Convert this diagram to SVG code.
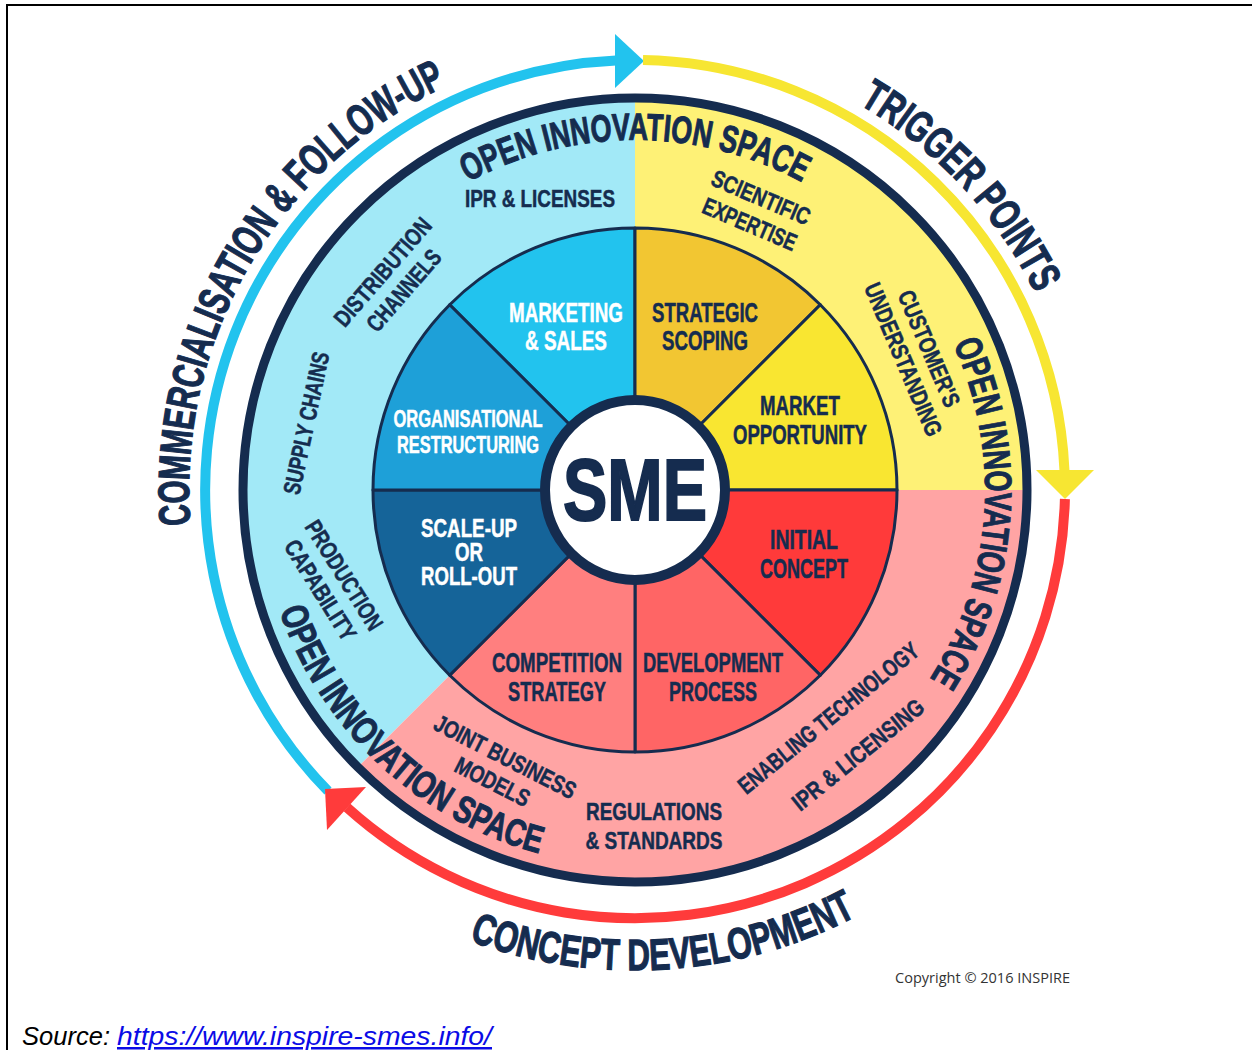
<svg xmlns="http://www.w3.org/2000/svg" xmlns:xlink="http://www.w3.org/1999/xlink" width="1252" height="1050" viewBox="0 0 1252 1050">
<style>
.t{font-family:"Liberation Sans",Arial,sans-serif;font-weight:bold;text-anchor:middle}
.nv{fill:#152C4F;stroke:#152C4F;stroke-width:0.5}
.wh{fill:#ffffff;stroke:#ffffff;stroke-width:0.5}
.s27{font-size:27px}
.s25{font-size:25px}
.s23{font-size:23px}
.s24{font-size:24px}
.ois{font-size:38px;fill:#152C4F;stroke:#152C4F;stroke-width:1}
.big{font-size:44px;fill:#152C4F;stroke:#152C4F;stroke-width:1.2}
.sec{stroke:#152C4F;stroke-width:3;stroke-linejoin:round}
.arc{fill:none;stroke-width:10}
</style>
<defs>
<path id="pTop" d="M290.3,429.2 A350,350 0 0 1 979.7,429.2"/>
<path id="pRight" d="M719.7,150.4 A350,350 0 0 1 671.6,838.1"/>
<path id="pBL" d="M318.0,284.1 A379,379 0 0 0 862.5,792.7"/>
<path id="pComm" d="M346.8,830.4 A446,446 0 0 1 789.4,71.6"/>
<path id="pTrig" d="M392.1,115.9 A446,446 0 0 1 991.2,758.4"/>
<path id="pConc" d="M168.5,603.3 A480,480 0 0 0 1112.1,543.1"/>
</defs>

<g id="frame" stroke="#000" stroke-width="2">
<line x1="7" y1="5" x2="1252" y2="5"/>
<line x1="7" y1="4" x2="7" y2="1050"/>
</g>

<g id="outer-bands">
<path d="M635,490 L357.8,767.2 A392,392 0 0 1 635,98 Z" fill="#A2E9F7"/>
<path d="M635,490 L635,98 A392,392 0 0 1 1027,490 Z" fill="#FEF176"/>
<path d="M635,490 L1027,490 A392,392 0 0 1 357.8,767.2 Z" fill="#FFA4A4"/>
<circle cx="635" cy="490" r="392" fill="none" stroke="#152C4F" stroke-width="9"/>
</g>

<g id="connectors">
<path class="arc" stroke="#22C3EE" d="M328,791 A430,430 0 0 1 616,60.5"/>
<polygon fill="#22C3EE" points="615,34 644,61 615,88"/>
<path class="arc" stroke="#F7E632" d="M643,60 A430,430 0 0 1 1064.5,471"/>
<polygon fill="#F7E632" points="1036,470 1094,470 1065,499"/>
<path class="arc" stroke="#FF3B3B" d="M1064.9,499 A430,430 0 0 1 347,807.5"/>
<polygon fill="#FF3B3B" points="325,789 366,787 327,830"/>
</g>

<g id="sectors">
<g id="sector-marketing">
<path class="sec" fill="#22C3EE" d="M635,490 L449.7,304.7 A262,262 0 0 1 635,228 Z"/>
<text class="t wh s27" x="566" y="322" textLength="114" lengthAdjust="spacingAndGlyphs">MARKETING</text>
<text class="t wh s27" x="566" y="350" textLength="82" lengthAdjust="spacingAndGlyphs">&amp; SALES</text>
</g>
<g id="sector-strategic">
<path class="sec" fill="#F2C632" d="M635,490 L635,228 A262,262 0 0 1 820.3,304.7 Z"/>
<text class="t nv s27" x="705" y="322" textLength="106" lengthAdjust="spacingAndGlyphs">STRATEGIC</text>
<text class="t nv s27" x="705" y="350" textLength="86" lengthAdjust="spacingAndGlyphs">SCOPING</text>
</g>
<g id="sector-market">
<path class="sec" fill="#F9E631" d="M635,490 L820.3,304.7 A262,262 0 0 1 897,490 Z"/>
<text class="t nv s27" x="800" y="415" textLength="80" lengthAdjust="spacingAndGlyphs">MARKET</text>
<text class="t nv s27" x="800" y="444" textLength="134" lengthAdjust="spacingAndGlyphs">OPPORTUNITY</text>
</g>
<g id="sector-initial">
<path class="sec" fill="#FF3A3A" d="M635,490 L897,490 A262,262 0 0 1 820.3,675.3 Z"/>
<text class="t nv s27" x="804" y="549" textLength="68" lengthAdjust="spacingAndGlyphs">INITIAL</text>
<text class="t nv s27" x="804" y="578" textLength="88" lengthAdjust="spacingAndGlyphs">CONCEPT</text>
</g>
<g id="sector-development">
<path class="sec" fill="#FF6565" d="M635,490 L820.3,675.3 A262,262 0 0 1 635,752 Z"/>
<text class="t nv s27" x="713" y="672" textLength="140" lengthAdjust="spacingAndGlyphs">DEVELOPMENT</text>
<text class="t nv s27" x="713" y="701" textLength="88" lengthAdjust="spacingAndGlyphs">PROCESS</text>
</g>
<g id="sector-competition">
<path class="sec" fill="#FF7F7F" d="M635,490 L635,752 A262,262 0 0 1 449.7,675.3 Z"/>
<text class="t nv s27" x="557" y="672" textLength="130" lengthAdjust="spacingAndGlyphs">COMPETITION</text>
<text class="t nv s27" x="557" y="701" textLength="98" lengthAdjust="spacingAndGlyphs">STRATEGY</text>
</g>
<g id="sector-scaleup">
<path class="sec" fill="#156499" d="M635,490 L449.7,675.3 A262,262 0 0 1 373,490 Z"/>
<text class="t wh s25" x="469" y="537" textLength="96" lengthAdjust="spacingAndGlyphs">SCALE-UP</text>
<text class="t wh s25" x="469" y="561" textLength="28" lengthAdjust="spacingAndGlyphs">OR</text>
<text class="t wh s25" x="469" y="585" textLength="96" lengthAdjust="spacingAndGlyphs">ROLL-OUT</text>
</g>
<g id="sector-organisational">
<path class="sec" fill="#1EA0D8" d="M635,490 L373,490 A262,262 0 0 1 449.7,304.7 Z"/>
<text class="t wh s23" x="468" y="427" textLength="149" lengthAdjust="spacingAndGlyphs">ORGANISATIONAL</text>
<text class="t wh s23" x="468" y="453" textLength="142" lengthAdjust="spacingAndGlyphs">RESTRUCTURING</text>
</g>
</g>

<g id="center-sme">
<circle cx="635" cy="490" r="90" fill="#ffffff" stroke="#152C4F" stroke-width="10"/>
<text class="t" style="font-size:88px;fill:#152C4F;stroke:#152C4F;stroke-width:2" x="635" y="520" textLength="144" lengthAdjust="spacingAndGlyphs">SME</text>
</g>

<g id="band-labels">
<g id="lbl-ipr-licenses"><text class="t nv s24" x="540" y="207" textLength="150" lengthAdjust="spacingAndGlyphs">IPR &amp; LICENSES</text></g>
<g id="lbl-scientific" transform="translate(755.5,210.5) rotate(23)">
<text class="t nv s24" x="0" y="-5.9" textLength="105" lengthAdjust="spacingAndGlyphs">SCIENTIFIC</text>
<text class="t nv s24" x="0" y="23.1" textLength="100" lengthAdjust="spacingAndGlyphs">EXPERTISE</text>
</g>
<g id="lbl-customer" transform="translate(916.5,354) rotate(67)">
<text class="t nv s24" x="0" y="-5.4" textLength="124" lengthAdjust="spacingAndGlyphs">CUSTOMER'S</text>
<text class="t nv s24" x="0" y="22.6" textLength="164" lengthAdjust="spacingAndGlyphs">UNDERSTANDING</text>
</g>
<g id="lbl-distribution" transform="translate(393,281) rotate(-49)">
<text class="t nv s24" x="0" y="-5.4" textLength="135" lengthAdjust="spacingAndGlyphs">DISTRIBUTION</text>
<text class="t nv s24" x="0" y="22.6" textLength="100" lengthAdjust="spacingAndGlyphs">CHANNELS</text>
</g>
<g id="lbl-supply" transform="translate(306,423) rotate(-78)">
<text class="t nv s24" x="0" y="8.6" textLength="145" lengthAdjust="spacingAndGlyphs">SUPPLY CHAINS</text>
</g>
<g id="lbl-production" transform="translate(332.5,582.5) rotate(58)">
<text class="t nv s24" x="0" y="-5.4" textLength="125" lengthAdjust="spacingAndGlyphs">PRODUCTION</text>
<text class="t nv s24" x="0" y="22.6" textLength="114" lengthAdjust="spacingAndGlyphs">CAPABILITY</text>
</g>
<g id="lbl-joint" transform="translate(499,769) rotate(27)">
<text class="t nv s24" x="0" y="-5.4" textLength="156" lengthAdjust="spacingAndGlyphs">JOINT BUSINESS</text>
<text class="t nv s24" x="0" y="22.6" textLength="81" lengthAdjust="spacingAndGlyphs">MODELS</text>
</g>
<g id="lbl-regulations">
<text class="t nv s24" x="654" y="820" textLength="136" lengthAdjust="spacingAndGlyphs">REGULATIONS</text>
<text class="t nv s24" x="654" y="849" textLength="137" lengthAdjust="spacingAndGlyphs">&amp; STANDARDS</text>
</g>
<g id="lbl-enabling" transform="translate(843,736) rotate(-39)">
<text class="t nv s24" x="0" y="-14.9" textLength="225" lengthAdjust="spacingAndGlyphs">ENABLING TECHNOLOGY</text>
<text class="t nv s24" x="0" y="32.1" textLength="162" lengthAdjust="spacingAndGlyphs">IPR &amp; LICENSING</text>
</g>
</g>

<g id="open-innovation-labels">
<text class="t ois"><textPath xlink:href="#pTop" href="#pTop" startOffset="50%" textLength="348" lengthAdjust="spacingAndGlyphs">OPEN INNOVATION SPACE</textPath></text>
<text class="t ois"><textPath xlink:href="#pRight" href="#pRight" startOffset="50%" textLength="350" lengthAdjust="spacingAndGlyphs">OPEN INNOVATION SPACE</textPath></text>
<text class="t ois"><textPath xlink:href="#pBL" href="#pBL" startOffset="50%" textLength="370" lengthAdjust="spacingAndGlyphs">OPEN INNOVATION SPACE</textPath></text>
</g>

<g id="phase-labels">
<text class="t big"><textPath xlink:href="#pComm" href="#pComm" startOffset="50%" textLength="541" lengthAdjust="spacingAndGlyphs">COMMERCIALISATION &amp; FOLLOW-UP</textPath></text>
<text class="t big"><textPath xlink:href="#pTrig" href="#pTrig" startOffset="50%" textLength="263" lengthAdjust="spacingAndGlyphs">TRIGGER POINTS</textPath></text>
<text class="t big"><textPath xlink:href="#pConc" href="#pConc" startOffset="50%" textLength="400" lengthAdjust="spacingAndGlyphs">CONCEPT DEVELOPMENT</textPath></text>
</g>

<text x="895" y="983" style="font-family:'Open Sans','Liberation Sans',sans-serif;font-size:14px;fill:#333333" textLength="175" lengthAdjust="spacingAndGlyphs">Copyright © 2016 INSPIRE</text>
<g id="source">
<text x="22" y="1045" style="font-family:'Liberation Sans',Arial,sans-serif;font-style:italic;font-size:25px;fill:#000000" textLength="88" lengthAdjust="spacingAndGlyphs">Source:</text>
<text x="117" y="1045" style="font-family:'Liberation Sans',Arial,sans-serif;font-style:italic;font-size:25px;fill:#0B0BE6;text-decoration:underline" textLength="375" lengthAdjust="spacingAndGlyphs">https://www.inspire-smes.info/</text>
</g>
</svg>
